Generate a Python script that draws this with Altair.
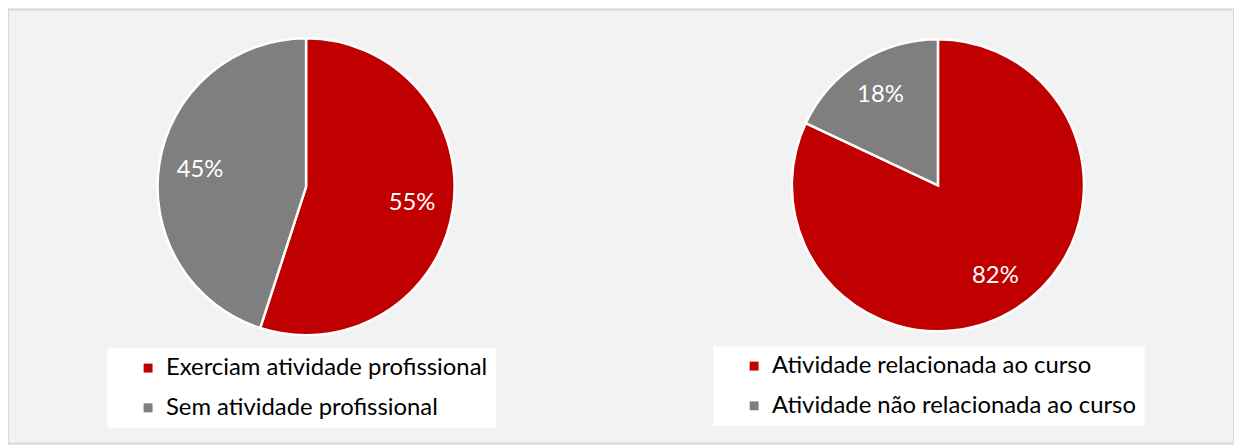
import altair as alt
import pandas as pd

pies = ["Situação profissional", "Relação com o curso"]

labels1 = ["Exerciam atividade profissional", "Sem atividade profissional"]
values1 = [55, 45]

labels2 = ["Atividade relacionada ao curso", "Atividade não relacionada ao curso"]
values2 = [82, 18]

colors = ["#c00000", "#7f7f7f"]

FONT = "Lato"


def frame(pie, labels, values):
    return pd.DataFrame({
        "pie": pie,
        "label": labels,
        "value": values,
        "order": list(range(len(labels))),
    })


df1 = frame(pies[0], labels1, values1)
df2 = frame(pies[1], labels2, values2)

x_enc = alt.X("pie:N", scale=alt.Scale(type="point", domain=pies, range=[300, 936], padding=0), axis=None)
theta_scale = alt.Scale(domain=[0, 100])


def pie_layers(df, labels, cy, r, legend_x, legend_y):
    base = alt.Chart(df).transform_stack(
        stack="value", groupby=["pie"], as_=["start", "end"],
        sort=[alt.SortField("order", order="ascending")]
    ).transform_calculate(
        mid="(datum.start + datum.end) / 2",
        pct="datum.value + '%'"
    )
    arc = base.mark_arc(outerRadius=r, stroke="white", strokeWidth=2.5).encode(
        x=x_enc,
        y=alt.value(cy),
        theta=alt.Theta("start:Q", scale=theta_scale),
        theta2="end:Q",
        color=alt.Color(
            "label:N",
            scale=alt.Scale(domain=labels, range=colors),
            legend=alt.Legend(
                title=None, orient="none", legendX=legend_x, legendY=legend_y,
                fillColor="white", padding=8, symbolOffset=21,
                symbolType="square", symbolSize=81, symbolStrokeWidth=0,
                labelFont=FONT, labelFontSize=24, labelColor="#000000",
                labelOffset=6, rowPadding=16, labelLimit=600,
            ),
        ),
    )
    text = base.mark_text(radius=108, fontSize=24, color="white", font=FONT).encode(
        x=x_enc,
        y=alt.value(cy),
        theta=alt.Theta("mid:Q", scale=theta_scale),
        text="pct:N",
    )
    return arc, text


a1, t1 = pie_layers(df1, labels1, 178.5, 149.5, 100, 341)
a2, t2 = pie_layers(df2, labels2, 177, 147, 710, 339)

chart = alt.layer(a1, a2, t1, t2).resolve_scale(color="independent").properties(
    width=1234, height=437, autosize=alt.AutoSizeParams(type="none"), padding=0,
    background="#f2f2f2"
).configure_view(
    fill="#f2f2f2", stroke="#d9d9d9", strokeWidth=2
)

chart.save("out.html", embed_options={"renderer": "svg", "actions": False})
